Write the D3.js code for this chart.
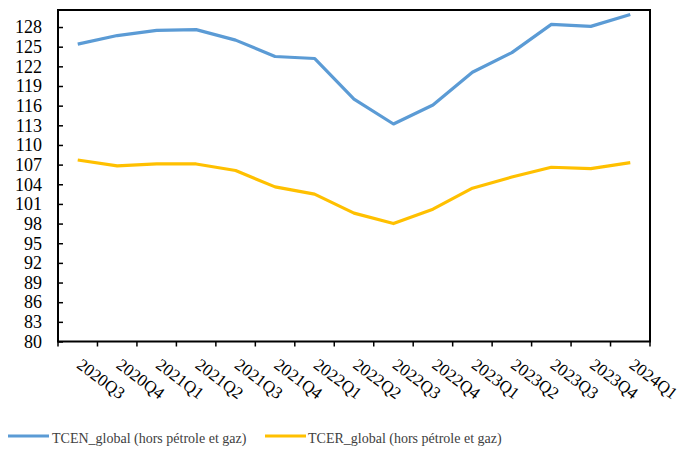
<!DOCTYPE html>
<html><head><meta charset="utf-8">
<script src="https://cdn.jsdelivr.net/npm/d3@7/dist/d3.min.js"></script>
<style>body{margin:0;background:#fff}svg{display:block}</style>
</head><body>
<svg id="c" width="694" height="462"></svg>
<script>
const categories = ["2020Q3","2020Q4","2021Q1","2021Q2","2021Q3","2021Q4","2022Q1","2022Q2","2022Q3","2022Q4","2023Q1","2023Q2","2023Q3","2023Q4","2024Q1"];
const tcen = [125.4,126.7,127.5,127.6,126.0,123.5,123.2,117.0,113.2,116.1,121.1,124.1,128.4,128.1,129.9];
const tcer = [107.7,106.8,107.1,107.1,106.1,103.6,102.5,99.6,98.0,100.2,103.4,105.1,106.6,106.4,107.3];
const yTicks = [80,83,86,89,92,95,98,101,104,107,110,113,116,119,122,125,128];
const seriesNames = ["TCEN_global (hors pétrole et gaz)","TCER_global (hors pétrole et gaz)"];
const colors = ["#5B9BD5","#FFC000"];

const svg = d3.select("#c");
const L = 58, R = 650, T = 10, B = 341.5;
const x = d3.scaleBand().domain(categories).range([L, R]).padding(0);
const y = d3.scaleLinear().domain([80, 130.6]).range([B, T]);
const font = "'Liberation Serif','Times New Roman',serif";

// y axis ticks (inward) and labels
const yAxis = svg.append("g").attr("transform", `translate(${L},0)`)
  .call(d3.axisRight(y).tickValues(yTicks).tickSize(5).tickFormat(""));
yAxis.select(".domain").remove();
yAxis.selectAll("line").attr("stroke","#000").attr("stroke-width",1.5);
svg.append("g").selectAll("text").data(yTicks).join("text")
  .attr("x", 42).attr("y", d => y(d)).attr("dy","0.35em")
  .attr("text-anchor","end").attr("font-family",font).attr("font-size",18)
  .attr("fill","#000").text(d => d);

// x axis ticks at band boundaries (outward)
const bounds = categories.map(c => x(c)).concat([x(categories[categories.length-1]) + x.bandwidth()]);
svg.append("g").selectAll("line").data(bounds).join("line")
  .attr("x1", d => d).attr("x2", d => d).attr("y1", B).attr("y2", B + 5)
  .attr("stroke","#000").attr("stroke-width",1.5);

// x labels rotated
svg.append("g").selectAll("text").data(categories).join("text")
  .attr("transform", d => `translate(${x(d) + x.bandwidth()/2 - 2},367) rotate(37)`)
  .attr("font-family",font).attr("font-size",17).attr("fill","#000")
  .text(d => d);

// plot box
svg.append("rect").attr("x",L).attr("y",T).attr("width",R-L).attr("height",B-T)
  .attr("fill","none").attr("stroke","#000").attr("stroke-width",2);

// lines
const line = d3.line().x((d,i) => x(categories[i]) + x.bandwidth()/2).y(d => y(d));
[tcen, tcer].forEach((s, k) => {
  svg.append("path").datum(s).attr("d", line).attr("fill","none")
    .attr("stroke", colors[k]).attr("stroke-width",3.2).attr("stroke-linejoin","round");
});

// legend
const lg = [{x0:8, tx:52}, {x0:265, tx:308}];
lg.forEach((p,k) => {
  svg.append("line").attr("x1",p.x0).attr("x2",p.x0+41).attr("y1",436).attr("y2",436)
    .attr("stroke",colors[k]).attr("stroke-width",3.2);
  svg.append("text").attr("x",p.tx).attr("y",442.5).attr("font-family",font)
    .attr("font-size",14).attr("fill","#404040").text(seriesNames[k]);
});
</script>
</body></html>
